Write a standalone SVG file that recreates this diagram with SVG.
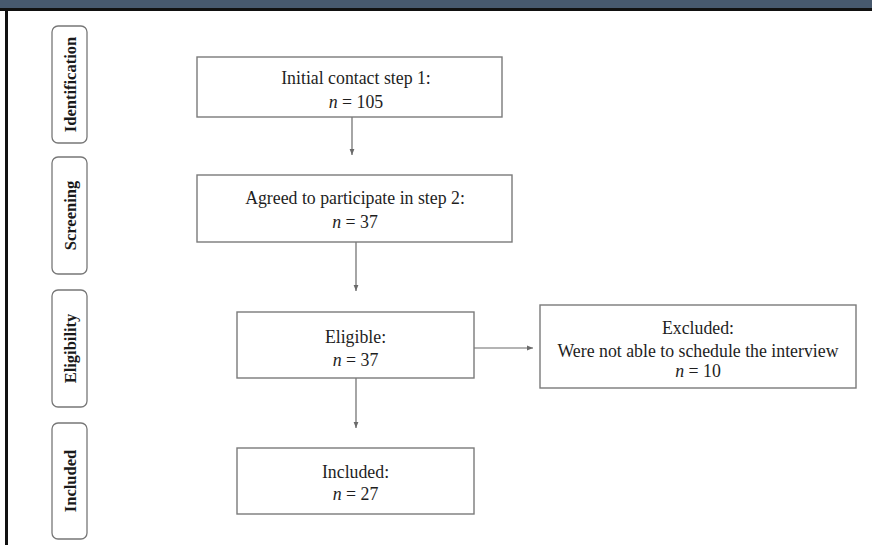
<svg xmlns="http://www.w3.org/2000/svg" width="872" height="545" viewBox="0 0 872 545">
<style>
.box{fill:#fff;stroke:#7a7a7a;stroke-width:1.4}
.side{fill:#fff;stroke:#777;stroke-width:1.3}
.t{font-family:"Liberation Serif",serif;font-size:17.8px;fill:#1e1e1e;text-anchor:middle}
.s{font-family:"Liberation Serif",serif;font-size:16.5px;font-weight:bold;fill:#1a1a1a;text-anchor:middle}
.c{stroke:#6a6a6a;stroke-width:1.2;fill:none;marker-end:url(#ah)}
</style>
<defs>
<marker id="ah" viewBox="0 0 10 10" refX="10" refY="5" markerWidth="6" markerHeight="6" markerUnits="userSpaceOnUse" orient="auto">
<path d="M0,1 L10,5 L0,9 z" fill="#6a6a6a"/>
</marker>
</defs>
<rect x="0" y="0" width="872" height="545" fill="#fff"/>
<rect x="0" y="0" width="872" height="8" fill="#47596e"/>
<rect x="0" y="8" width="872" height="3" fill="#111"/>
<rect x="5" y="8" width="3" height="537" fill="#111"/>
<g id="lbl-identification"><rect class="side" x="52" y="26" width="35" height="117" rx="6"/><text class="s" transform="translate(75.5,84.5) rotate(-90)">Identification</text></g>
<g id="lbl-screening"><rect class="side" x="52" y="157" width="35" height="117" rx="6"/><text class="s" transform="translate(75.5,215.5) rotate(-90)">Screening</text></g>
<g id="lbl-eligibility"><rect class="side" x="52" y="290" width="35" height="117" rx="6"/><text class="s" transform="translate(75.5,348.5) rotate(-90)">Eligibility</text></g>
<g id="lbl-included"><rect class="side" x="52" y="423" width="35" height="116" rx="6"/><text class="s" transform="translate(75.5,481) rotate(-90)">Included</text></g>
<g id="connectors">
<line class="c" x1="352" y1="117" x2="352" y2="155"/>
<line class="c" x1="356" y1="242" x2="356" y2="291"/>
<line class="c" x1="474" y1="348" x2="533" y2="348"/>
<line class="c" x1="356" y1="378" x2="356" y2="428"/>
</g>
<g id="n1"><rect class="box" x="197" y="57" width="305" height="60"/><text class="t" x="356" y="84">Initial contact step 1:</text><text class="t" x="356" y="108"><tspan font-style="italic">n</tspan> = 105</text></g>
<g id="n2"><rect class="box" x="197" y="175" width="315" height="67"/><text class="t" x="355" y="204">Agreed to participate in step 2:</text><text class="t" x="355" y="228"><tspan font-style="italic">n</tspan> = 37</text></g>
<g id="n3"><rect class="box" x="237" y="312" width="237" height="66"/><text class="t" x="355.5" y="343">Eligible:</text><text class="t" x="355.5" y="366"><tspan font-style="italic">n</tspan> = 37</text></g>
<g id="n4"><rect class="box" x="540" y="305" width="316" height="83"/><text class="t" x="698" y="334">Excluded:</text><text class="t" x="698" y="357">Were not able to schedule the interview</text><text class="t" x="698" y="377"><tspan font-style="italic">n</tspan> = 10</text></g>
<g id="n5"><rect class="box" x="237" y="448" width="237" height="66"/><text class="t" x="355.5" y="478">Included:</text><text class="t" x="355.5" y="500"><tspan font-style="italic">n</tspan> = 27</text></g>
</svg>
